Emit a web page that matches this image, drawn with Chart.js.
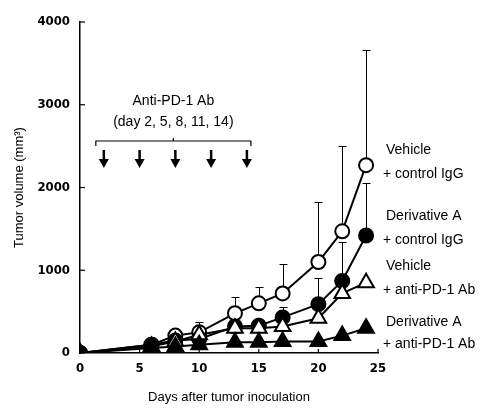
<!DOCTYPE html>
<html>
<head>
<meta charset="utf-8">
<script src="https://cdn.jsdelivr.net/npm/chart.js@4.4.1/dist/chart.umd.min.js"></script>
<style>
  html, body { margin: 0; padding: 0; background: #fff; }
  #wrap { width: 483px; height: 409px; position: relative; }
</style>
</head>
<body>
<div id="wrap"><canvas id="chart"></canvas></div>
<script>
// ----- DATA -----
const days = [0, 6, 8, 10, 13, 15, 17, 20, 22, 24];

const vehIgG    = [0, 100, 210, 250, 480, 600, 720, 1100, 1470, 2270];
const derIgG    = [0, 100, 150, 170, 320, 330, 430, 590, 870, 1420];
const vehPD1    = [0, 80, 140, 220, 300, 300, 320, 420, 720, 850];
const derPD1    = [0, 60, 80, 100, 130, 130, 140, 140, 210, 300];

// upper SD (value + sd), null = hidden behind the markers
const vehIgGErr = [null, null, null, 370, 680, 800, 1070, 1820, 2500, 3660];
const derIgGErr = [null, null, null, null, null, null, 550, 910, 1340, 2050];
const vehPD1Err = [null, null, null, null, null, null, null, null, 900, null];
const derPD1Err = [null, null, null, null, null, null, null, null, null, null];

const doseDays = [2, 5, 8, 11, 14];

const seriesLabels = [
    ['Vehicle', '+ control IgG'],
    ['Derivative A', '+ control IgG'],
    ['Vehicle', '+ anti-PD-1 Ab'],
    ['Derivative A', '+ anti-PD-1 Ab']
];

const FONT = '"Liberation Sans", Arial, sans-serif';
const TICKFONT = '"DejaVu Sans Condensed", "Liberation Sans", sans-serif';

function toXY(vals) {
    return days.map((d, i) => ({ x: d, y: vals[i] }));
}

function makeSet(label, vals, errs, style, filled, radius) {
    return {
        label: label,
        data: toXY(vals),
        errs: errs,
        borderColor: '#000',
        borderWidth: 2,
        pointStyle: style,
        pointRadius: radius,
        pointBorderWidth: 2,
        pointBorderColor: '#000',
        pointBackgroundColor: filled ? '#000' : '#fff',
        backgroundColor: filled ? '#000' : '#fff',
        tension: 0
    };
}

// error bars (upward only with cap), drawn before the points
const errorBars = {
    id: 'errorBars',
    beforeDatasetsDraw(chart) {
        const { ctx, scales } = chart;
        ctx.save();
        ctx.strokeStyle = '#000';
        ctx.lineWidth = 1;
        chart.data.datasets.forEach(ds => {
            ds.errs.forEach((e, i) => {
                if (e == null) return;
                const x = Math.round(scales.x.getPixelForValue(ds.data[i].x)) + 0.5;
                const y0 = scales.y.getPixelForValue(ds.data[i].y);
                const y1 = Math.round(scales.y.getPixelForValue(e)) + 0.5;
                ctx.beginPath();
                ctx.moveTo(x, y0);
                ctx.lineTo(x, y1);
                ctx.moveTo(x - 4, y1);
                ctx.lineTo(x + 4, y1);
                ctx.stroke();
            });
        });
        ctx.restore();
    }
};

// annotations: dosing arrows, series labels, inward ticks
const annotations = {
    id: 'annotations',
    afterDraw(chart) {
        const { ctx, scales } = chart;
        const x = scales.x, y = scales.y;
        ctx.save();
        ctx.fillStyle = '#000';
        ctx.strokeStyle = '#000';

        // inward tick marks
        ctx.lineWidth = 1.2;
        [0, 1000, 2000, 3000, 4000].forEach(v => {
            const py = y.getPixelForValue(v);
            ctx.beginPath();
            ctx.moveTo(x.left, py);
            ctx.lineTo(x.left + 5, py);
            ctx.stroke();
        });
        [5, 10, 15, 20, 25].forEach(v => {
            const px = x.getPixelForValue(v);
            ctx.beginPath();
            ctx.moveTo(px, y.bottom);
            ctx.lineTo(px, y.bottom - 4);
            ctx.stroke();
        });

        // dosing bracket
        const xa = x.getPixelForValue(doseDays[0]) - 8;
        const xb = x.getPixelForValue(doseDays[doseDays.length - 1]) + 4;
        const mid = (xa + xb) / 2;
        ctx.font = '14px ' + FONT;
        ctx.textAlign = 'center';
        ctx.textBaseline = 'middle';
        ctx.fillText('Anti-PD-1 Ab', mid, 101);
        ctx.fillText('(day 2, 5, 8, 11, 14)', mid, 122);

        ctx.lineWidth = 1.2;
        ctx.beginPath();
        ctx.moveTo(xa, 146);
        ctx.lineTo(xa, 141);
        ctx.lineTo(xb, 141);
        ctx.lineTo(xb, 146);
        ctx.moveTo(mid, 141);
        ctx.lineTo(mid, 138);
        ctx.stroke();

        doseDays.forEach(d => {
            const px = x.getPixelForValue(d);
            ctx.lineWidth = 2.5;
            ctx.beginPath();
            ctx.moveTo(px, 150);
            ctx.lineTo(px, 162);
            ctx.stroke();
            ctx.beginPath();
            ctx.moveTo(px - 5, 159);
            ctx.lineTo(px + 5, 159);
            ctx.lineTo(px, 168);
            ctx.closePath();
            ctx.fill();
        });

        // series labels on the right
        ctx.font = '14px ' + FONT;
        ctx.textAlign = 'left';
        const labelY = [[150, 174], [216, 240], [266, 290], [322, 344]];
        seriesLabels.forEach((pair, i) => {
            ctx.fillText(pair[0], 386, labelY[i][0]);
            ctx.fillText(pair[1], 383, labelY[i][1]);
        });
        ctx.restore();
    }
};

const chart = new Chart(document.getElementById('chart'), {
    type: 'line',
    data: {
        datasets: [
            makeSet('Derivative A + anti-PD-1 Ab', derPD1, derPD1Err, 'triangle', true, 9),
            makeSet('Vehicle + anti-PD-1 Ab', vehPD1, vehPD1Err, 'triangle', false, 9),
            makeSet('Derivative A + control IgG', derIgG, derIgGErr, 'circle', true, 7),
            makeSet('Vehicle + control IgG', vehIgG, vehIgGErr, 'circle', false, 7)
        ]
    },
    options: {
        responsive: true,
        maintainAspectRatio: false,
        animation: false,
        layout: { padding: { top: 22, right: 105, left: 8, bottom: 0 } },
        plugins: {
            legend: { display: false },
            tooltip: { enabled: false }
        },
        scales: {
            x: {
                type: 'linear',
                min: 0,
                max: 25,
                afterFit: s => { s.height = 56; },
                grid: { display: false, drawTicks: false },
                border: { display: true, color: '#000', width: 1.5 },
                ticks: { stepSize: 5, color: '#000', padding: 8, callback: v => String(v), font: { family: TICKFONT, size: 13, weight: 'bold' } },
                title: { display: true, text: 'Days after tumor inoculation', color: '#000', padding: { top: 14 }, font: { family: FONT, size: 13 } }
            },
            y: {
                min: 0,
                max: 4000,
                afterFit: s => { s.width = 72; },
                grid: { display: false, drawTicks: false },
                border: { display: true, color: '#000', width: 1.5 },
                ticks: { stepSize: 1000, color: '#000', padding: 10, callback: v => String(v), font: { family: TICKFONT, size: 13, weight: 'bold' } },
                title: { display: true, text: 'Tumor volume (mm³)', color: '#000', padding: { bottom: 6 }, font: { family: FONT, size: 13 } }
            }
        }
    },
    plugins: [errorBars, annotations]
});
</script>
</body>
</html>
